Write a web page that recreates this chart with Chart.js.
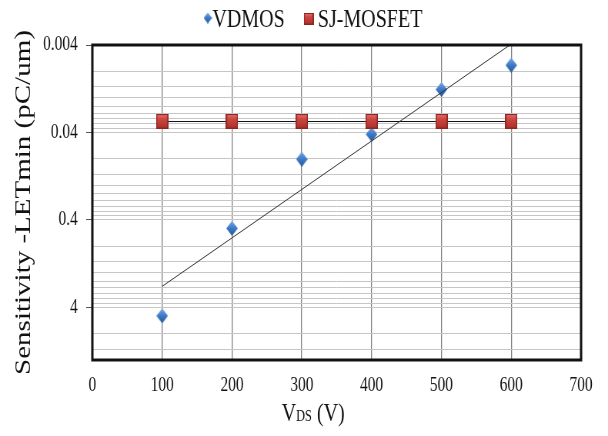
<!DOCTYPE html>
<html>
<head>
<meta charset="utf-8">
<script src="https://cdn.jsdelivr.net/npm/chart.js@4/dist/chart.umd.min.js"></script>
<style>
  body { margin: 0; background: #fff; }
</style>
</head>
<body>
<!-- the source picture is squeezed sideways, so draw wide and shrink with css -->
<canvas id="chart" width="790" height="436" style="width:608px;height:436px"></canvas>
<script>
const seriesNames = ["VDMOS", "SJ-MOSFET"];
const vds = [100, 200, 300, 400, 500, 600];
const vdmos = [5.0, 0.5, 0.081, 0.042, 0.0129, 0.0068];
const sjMosfet = [0.03, 0.03, 0.03, 0.03, 0.03, 0.03];
// exponential trendline of VDMOS, end points
const trendVds = [100, 600];
const trendVdmos = [2.3, 0.0039];

const xTicks = [0, 100, 200, 300, 400, 500, 600, 700];
const yMajor = [0.004, 0.04, 0.4, 4];
const yLabels = ["0.004", "0.04", "0.4", "4"];
const yMin = 0.004;
const yMax = 16;

const serif = '"Liberation Serif", "Times New Roman", serif';

// minor grid lines at 2..9 times each major value
const yGrid = [];
yMajor.forEach((m) => {
  for (let k = 1; k <= 9; k++) {
    const v = k === 1 ? m : m * k;
    if (v < yMax) yGrid.push(v);
  }
});

const blue = "#3b79c6";
const red = "#c8403a";

// shaded marker images
function diamondIcon(size) {
  const c = document.createElement("canvas");
  c.width = size;
  c.height = size;
  const g = c.getContext("2d");
  const h = size / 2;
  const grad = g.createLinearGradient(0, 0, 0, size);
  grad.addColorStop(0, "#78a8e2");
  grad.addColorStop(0.5, "#3c7ac7");
  grad.addColorStop(1, "#275593");
  g.fillStyle = grad;
  g.beginPath();
  g.moveTo(h, 0);
  g.lineTo(size, h);
  g.lineTo(h, size);
  g.lineTo(0, h);
  g.closePath();
  g.fill();
  return c;
}

function squareIcon(w, hgt) {
  const c = document.createElement("canvas");
  c.width = w;
  c.height = hgt;
  const g = c.getContext("2d");
  g.fillStyle = "#8e2521";
  g.fillRect(0, 0, w, hgt);
  const grad = g.createLinearGradient(0, 0, 0, hgt);
  grad.addColorStop(0, "#e07570");
  grad.addColorStop(0.35, "#cc4540");
  grad.addColorStop(1, "#a92f2a");
  g.fillStyle = grad;
  g.fillRect(1.5, 1, w - 3, hgt - 2.5);
  return c;
}

const diamondImg = diamondIcon(15);
const squareImg = squareIcon(16, 15);

const extras = {
  id: "extras",
  afterDatasetsDraw(chart) {
    const { ctx, chartArea: a } = chart;
    ctx.save();
    ctx.strokeStyle = "#111";
    ctx.lineWidth = 3;
    ctx.strokeRect(a.left, a.top, a.right - a.left, a.bottom - a.top);
    ctx.restore();
  },
  afterDraw(chart) {
    const ctx = chart.ctx;
    ctx.save();
    ctx.textBaseline = "alphabetic";

    // legend
    ctx.drawImage(diamondIcon(11), 264.5, 12.5);
    ctx.drawImage(squareIcon(13, 12), 394.5, 13);
    ctx.fillStyle = "#111";
    ctx.font = "26px " + serif;
    ctx.fillText(seriesNames[0], 276, 27);
    ctx.fillText(seriesNames[1], 413, 27);

    // x title, V with DS subscript
    let x = 366;
    ctx.font = "26px " + serif;
    ctx.fillText("V", x, 421);
    x += ctx.measureText("V").width;
    ctx.font = "16px " + serif;
    ctx.fillText("DS", x, 421);
    x += ctx.measureText("DS").width;
    ctx.font = "26px " + serif;
    ctx.fillText(" (V)", x, 421);
    ctx.restore();
  },
};

const data = {
  datasets: [
    {
      label: "trend",
      data: trendVds.map((x, i) => ({ x: x, y: trendVdmos[i] })),
      showLine: true,
      borderColor: "#333",
      borderWidth: 1,
      pointRadius: 0,
    },
    {
      label: seriesNames[1],
      data: vds.map((x, i) => ({ x: x, y: sjMosfet[i] })),
      showLine: true,
      borderColor: "#111",
      borderWidth: 1,
      pointStyle: squareImg,
      pointRadius: 8,
      backgroundColor: red,
    },
    {
      label: seriesNames[0],
      data: vds.map((x, i) => ({ x: x, y: vdmos[i] })),
      showLine: false,
      pointStyle: diamondImg,
      pointRadius: 8,
      backgroundColor: blue,
    },
  ],
};

const config = {
  type: "scatter",
  data: data,
  plugins: [extras],
  options: {
    responsive: false,
    devicePixelRatio: 1,
    animation: false,
    events: [],
    layout: { padding: { left: 0, right: 35, top: 45, bottom: 0 } },
    plugins: {
      legend: { display: false },
      tooltip: { enabled: false },
    },
    scales: {
      x: {
        type: "linear",
        min: 0,
        max: 700,
        afterBuildTicks: (s) => {
          s.ticks = xTicks.map((v) => ({ value: v }));
        },
        afterFit: (s) => {
          s.height = 76;
        },
        ticks: {
          padding: 14,
          color: "#111",
          font: { family: serif, size: 20 },
        },
        grid: { color: "#808080", lineWidth: 1.3, drawTicks: false },
        border: { display: false },
      },
      y: {
        type: "logarithmic",
        reverse: true,
        min: yMin,
        max: yMax,
        afterBuildTicks: (s) => {
          s.ticks = yGrid.map((v) => ({ value: v }));
        },
        afterFit: (s) => {
          s.width = 120;
        },
        ticks: {
          autoSkip: false,
          padding: 11,
          color: "#111",
          font: { family: serif, size: 20 },
          callback: (v) => {
            const i = yMajor.indexOf(v);
            return i >= 0 ? yLabels[i] : "";
          },
        },
        grid: {
          color: "#c6c6c6",
          lineWidth: 1,
          tickLength: 8,
          tickColor: (c) => (c.tick && yMajor.includes(c.tick.value) ? "#555" : "rgba(0,0,0,0)"),
        },
        border: { display: false },
        title: {
          display: true,
          text: "Sensitivity -LETmin (pC/um)",
          color: "#111",
          font: { family: serif, size: 29 },
          padding: { top: 14, bottom: 0 },
        },
      },
    },
  },
};

const chart = new Chart(document.getElementById("chart"), config);
</script>
</body>
</html>
